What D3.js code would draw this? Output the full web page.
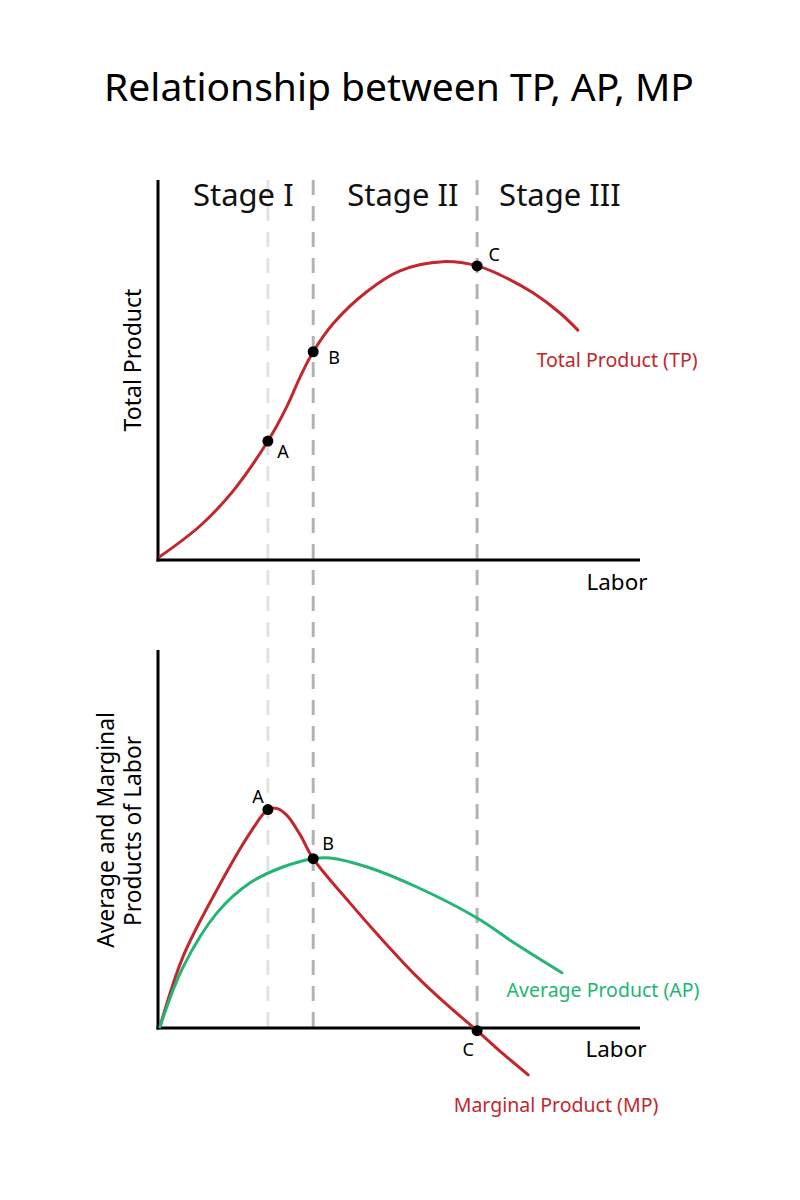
<!DOCTYPE html>
<html>
<head>
<meta charset="utf-8">
<script src="https://cdn.jsdelivr.net/npm/d3@7"></script>
<style>
  html, body { margin: 0; padding: 0; background: #fff; }
  svg { display: block; font-family: "Noto Sans", "Open Sans", sans-serif; }
</style>
</head>
<body>
<svg id="chart" width="800" height="1200"></svg>
<script>
// ---- Data (labor units on x, product units on y) ----
const stageBounds = [2.28, 3.22, 6.62];
const stageNames = ["Stage I", "Stage II", "Stage III"];
const stageCenters = [1.77, 5.08, 8.34];

const tpLabor = [0.04, 0.87, 1.56, 2.28, 2.67, 2.95, 3.22, 3.64, 4.33, 5.02, 5.91, 6.62, 7.10, 7.78, 8.34, 8.71];
const tpValues = [0.9, 8.95, 18.2, 31.3, 40.3, 48.2, 54.8, 62.3, 70.6, 76.1, 78.5, 77.4, 75.0, 70.3, 65.0, 60.5];

const mpLabor = [0.04, 0.52, 1.22, 1.91, 2.28, 2.46, 2.67, 2.95, 3.22, 3.98, 4.67, 5.37, 6.00, 6.62, 7.10, 7.68];
const mpValues = [0.3, 18.9, 36.5, 51.6, 57.8, 58.1, 56.3, 51.1, 44.8, 33.1, 23.1, 13.6, 6.1, -0.7, -6.2, -12.4];

const apLabor = [0.04, 0.52, 1.22, 1.91, 2.59, 3.22, 3.57, 4.34, 5.37, 6.62, 7.45, 8.38];
const apValues = [0.3, 16.1, 30.4, 38.4, 42.6, 44.8, 45.0, 42.6, 37.3, 29.1, 22.0, 14.6];

const tpPoints = [{label: "A", x: 2.28, y: 31.3}, {label: "B", x: 3.22, y: 54.8}, {label: "C", x: 6.62, y: 77.4}];
const mapPoints = [{label: "A", x: 2.28, y: 57.8}, {label: "B", x: 3.22, y: 44.8}, {label: "C", x: 6.62, y: -0.7}];

const RED = "#c1272d";
const GREEN = "#22b573";

const svg = d3.select("#chart");

// Title
svg.append("text").attr("x", 399).attr("y", 101).attr("text-anchor", "middle")
  .attr("font-size", 39).attr("fill", "#000").text("Relationship between TP, AP, MP");

// Scales
const x = d3.scaleLinear().domain([0, 10]).range([158, 640]);
const yTop = d3.scaleLinear().domain([0, 100]).range([560, 180]);
const yBot = d3.scaleLinear().domain([0, 100]).range([1028, 650]);

// Dashed stage boundaries
const dashColors = ["#e3e3e3", "#b3b3b3", "#b3b3b3"];
svg.selectAll("line.stage").data(stageBounds).join("line")
  .attr("class", "stage")
  .attr("x1", d => x(d)).attr("x2", d => x(d))
  .attr("y1", 180).attr("y2", 1030)
  .attr("stroke", (d, i) => dashColors[i]).attr("stroke-width", 3)
  .attr("stroke-dasharray", "15,11");

// Stage labels
svg.selectAll("text.stage").data(stageNames).join("text")
  .attr("class", "stage")
  .attr("x", (d, i) => x(stageCenters[i])).attr("y", 206)
  .attr("text-anchor", "middle").attr("font-size", 31).attr("fill", "#111")
  .text(d => d);

// Axes (domain lines only)
function drawAxes(yScale, yTopPx) {
  const xa = d3.axisBottom(x).tickValues([]).tickSizeOuter(0);
  svg.append("g").attr("transform", `translate(0,${yScale(0)})`).call(xa)
    .select(".domain").attr("stroke", "#000").attr("stroke-width", 3).attr("d", `M${x(0) - 1.5},0H${x(10)}`);
  const ya = d3.axisLeft(yScale).tickValues([]).tickSizeOuter(0);
  svg.append("g").attr("transform", `translate(${x(0)},0)`).call(ya)
    .select(".domain").attr("stroke", "#000").attr("stroke-width", 3)
    .attr("d", `M0,${yTopPx}V${yScale(0) + 1.5}`);
}
drawAxes(yTop, 180);
drawAxes(yBot, 650);

// Curves
const lineTop = d3.line().x(d => x(d[0])).y(d => yTop(d[1])).curve(d3.curveCatmullRom.alpha(0.5));
const lineBot = d3.line().x(d => x(d[0])).y(d => yBot(d[1])).curve(d3.curveCatmullRom.alpha(0.5));

svg.append("path").datum(d3.zip(tpLabor, tpValues)).attr("d", lineTop)
  .attr("fill", "none").attr("stroke", RED).attr("stroke-width", 3).attr("stroke-linecap", "round");
svg.append("path").datum(d3.zip(mpLabor, mpValues)).attr("d", lineBot)
  .attr("fill", "none").attr("stroke", RED).attr("stroke-width", 3).attr("stroke-linecap", "round");
svg.append("path").datum(d3.zip(apLabor, apValues)).attr("d", lineBot)
  .attr("fill", "none").attr("stroke", GREEN).attr("stroke-width", 3).attr("stroke-linecap", "round");

// Points
svg.selectAll("circle.tp").data(tpPoints).join("circle").attr("class", "tp")
  .attr("cx", d => x(d.x)).attr("cy", d => yTop(d.y)).attr("r", 5.5).attr("fill", "#000");
svg.selectAll("circle.mp").data(mapPoints).join("circle").attr("class", "mp")
  .attr("cx", d => x(d.x)).attr("cy", d => yBot(d.y)).attr("r", 5.5).attr("fill", "#000");

// Point labels
const tpOff = [[15, 17], [21, 12], [17, -5]];
svg.selectAll("text.tpl").data(tpPoints).join("text").attr("class", "tpl")
  .attr("x", (d, i) => x(d.x) + tpOff[i][0]).attr("y", (d, i) => yTop(d.y) + tpOff[i][1])
  .attr("text-anchor", "middle").attr("font-size", 18).attr("fill", "#000").text(d => d.label);
const mpOff = [[-10, -7], [15, -9], [-9, 25]];
svg.selectAll("text.mpl").data(mapPoints).join("text").attr("class", "mpl")
  .attr("x", (d, i) => x(d.x) + mpOff[i][0]).attr("y", (d, i) => yBot(d.y) + mpOff[i][1])
  .attr("text-anchor", "middle").attr("font-size", 18).attr("fill", "#000").text(d => d.label);

// Axis titles
svg.append("text").attr("x", 617).attr("y", 590).attr("text-anchor", "middle")
  .attr("font-size", 22.4).attr("fill", "#000").text("Labor");
svg.append("text").attr("x", 616).attr("y", 1057).attr("text-anchor", "middle")
  .attr("font-size", 22.4).attr("fill", "#000").text("Labor");

svg.append("text").attr("transform", "translate(141,360) rotate(-90)").attr("text-anchor", "middle")
  .attr("font-size", 23).attr("fill", "#000").text("Total Product");
svg.append("text").attr("transform", "translate(114,830) rotate(-90)").attr("text-anchor", "middle")
  .attr("font-size", 22.8).attr("fill", "#000").text("Average and Marginal");
svg.append("text").attr("transform", "translate(141,831) rotate(-90)").attr("text-anchor", "middle")
  .attr("font-size", 22.8).attr("fill", "#000").text("Products of Labor");

// Series labels
svg.append("text").attr("x", 617).attr("y", 367).attr("text-anchor", "middle")
  .attr("font-size", 19.6).attr("fill", RED).text("Total Product (TP)");
svg.append("text").attr("x", 603).attr("y", 997).attr("text-anchor", "middle")
  .attr("font-size", 19.5).attr("fill", GREEN).text("Average Product (AP)");
svg.append("text").attr("x", 556).attr("y", 1112).attr("text-anchor", "middle")
  .attr("font-size", 19.5).attr("fill", RED).text("Marginal Product (MP)");
</script>
</body>
</html>
